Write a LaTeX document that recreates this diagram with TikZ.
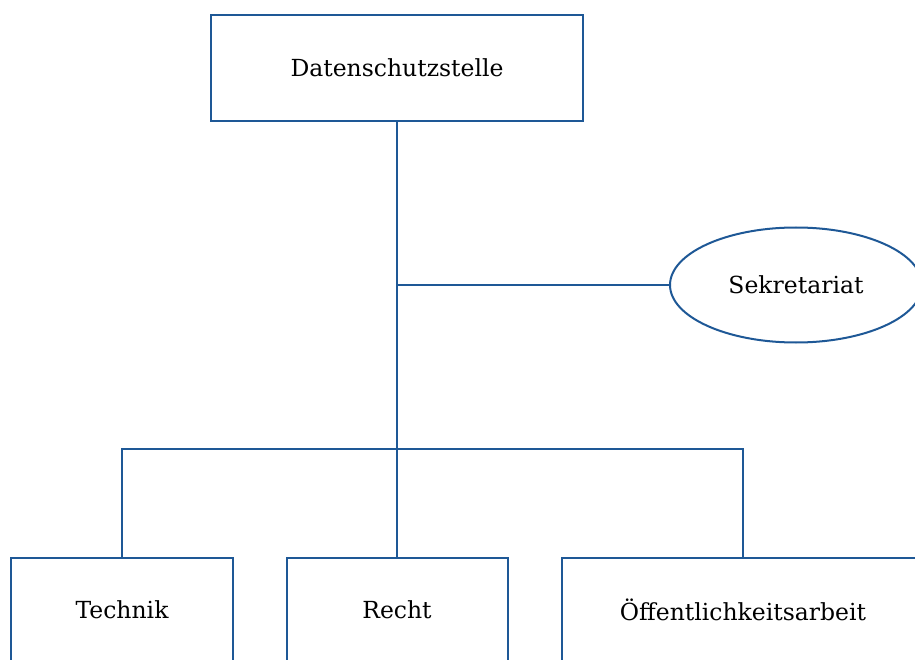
\documentclass[tikz,border=0pt]{standalone}
\usepackage{fontspec}
\setmainfont{DejaVu Serif}
\usetikzlibrary{shapes.geometric}
\definecolor{orgblue}{RGB}{30,88,150}

\begin{document}
\begin{tikzpicture}[x=1pt,y=-1pt,
    orgbox/.style={draw=orgblue, line width=2pt, rectangle, inner sep=0pt, font=\fontsize{23.5}{28}\selectfont},
    orgoval/.style={draw=orgblue, line width=2pt, ellipse, inner sep=0pt, font=\fontsize{23.5}{28}\selectfont},
    orgline/.style={draw=orgblue, line width=2pt}]
    \clip (0,0) rectangle (915,660);
    \useasboundingbox (0,0) rectangle (915,660);
    % boxes
    \node [orgbox, minimum width=372pt, minimum height=106pt] (stelle) at (397,68) {Datenschutzstelle};
    \node [orgoval, minimum width=252pt, minimum height=115pt] (sekretariat) at (796,285) {Sekretariat};
    \node [orgbox, minimum width=222pt, minimum height=104pt] (technik) at (122,610) {Technik};
    \node [orgbox, minimum width=221pt, minimum height=104pt] (recht) at (397,610) {Recht};
    \node [orgbox, minimum width=362pt, minimum height=104pt] (oeffentlich) at (743,610) {Öffentlichkeitsarbeit};
    % lines
    \coordinate (bus) at (397,449);
    \draw [orgline] (stelle.south) -- (recht.north);
    \draw [orgline] (stelle.south |- sekretariat.west) -- (sekretariat.west);
    \draw [orgline] (technik.north) |- (bus) -| (oeffentlich.north);
\end{tikzpicture}
\end{document}
